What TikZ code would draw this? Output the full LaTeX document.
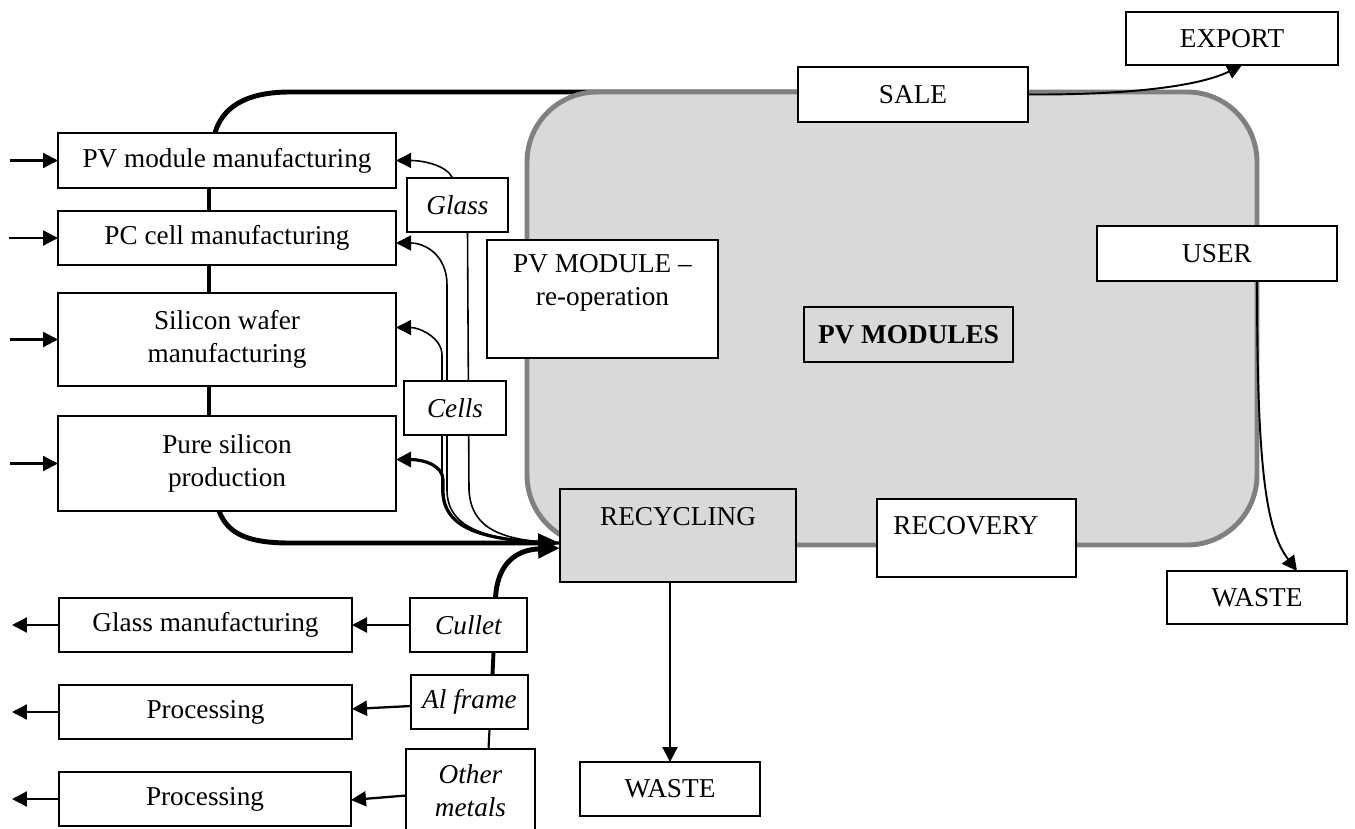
\documentclass[tikz,border=0pt]{standalone}
\usepackage{fontspec}
\setmainfont{Liberation Serif}
\usetikzlibrary{arrows.meta,calc}
\pgfdeclarelayer{bg}
\pgfsetlayers{bg,main}
\definecolor{grayfill}{HTML}{D9D9D9}
\definecolor{grayline}{HTML}{808080}
\newcommand{\bx}[7][]{\node[box,#1,minimum width={(#5-#3)*0.02cm},minimum height={(#6-#4)*0.02cm}] (#2) at ({(#3+#5)/2},{(#4+#6)/2}) {#7};}
\tikzset{
  box/.style={draw,line width=0.9pt,fill=white,inner sep=0pt,outer sep=0pt,align=center},
  txt/.style={inner sep=0pt,align=center},
  arr/.style={line width=1.3pt,-{Triangle[length=0.3cm,width=0.3cm]}},
  thin/.style={line width=0.9pt},
  thk/.style={line width=2.8pt},
  bigarr/.style={line width=2.8pt,-{Triangle[length=0.44cm,width=0.36cm]}},
}
\begin{document}
\begin{tikzpicture}[x=0.02cm,y=-0.02cm,every node/.style={font=\fontsize{15.5}{18.5}\selectfont}]
\useasboundingbox (0,0) rectangle (1355,828);
% left column
\bx{pvm}{58}{133}{396}{188}{PV module manufacturing}
\bx{pcc}{58}{211}{396}{265}{PC cell manufacturing}
\bx{swm}{58}{293}{396}{386}{Silicon wafer\\manufacturing}
\bx{psp}{58}{416}{396}{511}{Pure silicon\\production}
\bx{gman}{59}{598}{352}{652}{Glass manufacturing}
\bx{proc1}{59}{685}{352}{739}{Processing}
\bx{proc2}{59}{772}{351}{826}{Processing}
% material boxes
\bx[font=\fontsize{15.5}{18.5}\selectfont\itshape]{glass}{407}{178}{508}{232}{Glass}
\bx[font=\fontsize{15.5}{18.5}\selectfont\itshape]{cells}{404}{381}{506}{435}{Cells}
\bx[font=\fontsize{15.5}{18.5}\selectfont\itshape]{cullet}{410}{598}{527}{652}{Cullet}
\bx[font=\fontsize{15.5}{18.5}\selectfont\itshape]{alfr}{411}{675}{528}{729}{Al frame}
\bx[font=\fontsize{15.5}{18.5}\selectfont\itshape]{other}{406}{749}{535}{832}{Other\\metals}
% central / right
\bx{reop}{487}{240}{718}{358}{}
\node[txt] (reopT) at (602.5,283) {PV MODULE –\\re-operation};
\bx[fill=grayfill,line width=1.4pt,font=\fontsize{15.5}{18.5}\selectfont\bfseries]{pvmods}{804}{307}{1013}{362}{PV MODULES}
\bx[fill=grayfill,line width=1.2pt]{recy}{560}{489}{796}{582}{}
\node[txt] (recyT) at (678,517) {RECYCLING};
\bx{recov}{877}{499}{1076}{577}{}
\node[txt] (recovT) at (966,526) {RECOVERY};
\bx{sale}{798}{67}{1028}{122}{SALE}
\bx{export}{1126}{12}{1338}{65}{EXPORT}
\bx{user}{1097}{226}{1337}{281}{USER}
\bx{wasteR}{1167}{571}{1347}{624}{WASTE}
\bx{wasteB}{580}{762}{760}{816}{WASTE}
% named free ends
\coordinate (in1) at (10,160.5);
\coordinate (in2) at (9,238);
\coordinate (in3) at (10,339.5);
\coordinate (in4) at (10,463.5);
\coordinate (out1) at (12,625);
\coordinate (out2) at (12,712);
\coordinate (out3) at (12,799);
\coordinate (rin) at ($(recy.west)+(0,7.5)$);
\coordinate (rin2) at ($(recy.west)+(0,12.5)$);
\begin{pgfonlayer}{bg}
  % top flow line (under the grey field)
  \draw[thk] ($(pvm.north)+(-12,0)$) .. controls (222,108) and (245,92) .. (290,92) -- ($(sale.west)+(0,-2.5)$);
  % grey field
  \draw[line width=2.8pt,draw=grayline,fill=grayfill,rounded corners=1.4cm] (527,92) rectangle (1257,545);
  % user -> waste
  \draw[arr,line width=1.1pt] ($(user.south)+(40,0)$) .. controls (1257,470) and (1266,530) .. ($(wasteR.north)+(40,0)$);
  % sale -> export
  \draw[arr,line width=1.1pt] (sale.east) .. controls (1130,95) and (1200,86) .. ($(export.south)+(10,0)$);
  % bundle from recycling to left boxes
  \draw[arr,thin] ($(glass.north)+(-5,0)$) .. controls (447,166) and (425,160.5) .. (pvm.east);
  \draw[thin] ($(glass.south)+(10,0)$) -- (469,490) .. controls (471,528) and (500,541) .. (rin);
  \draw[arr,thin] (rin) .. controls (490,541) and (447,530) .. (447,490) -- (447,285) .. controls (447,255) and (425,243) .. ($(pcc.east)+(0,5)$);
  \draw[arr,thin] (rin) .. controls (485,541) and (442,530) .. (442,490) -- (442,355) .. controls (442,338) and (420,327.5) .. ($(swm.east)+(0,-12)$);
  \draw[arr,line width=1.8pt] (rin) .. controls (480,541) and (443,528) .. (443,490) -- (443,480) .. controls (443,466) and (425,459.5) .. ($(psp.east)+(0,-4)$);
  % main thick line into recycling
  \draw[bigarr] ($(psp.south)+(-8,0)$) .. controls (228,535) and (250,543) .. (290,543) -- (rin);
  % cullet into recycling
  \draw[bigarr] ($(cullet.north)+(27,0)$) .. controls (497,568) and (512,550) .. (rin2);
  % vertical links
  \draw[thk] ($(pvm.south)+(-18,0)$) -- ($(pcc.north)+(-18,0)$);
  \draw[thk] ($(pcc.south)+(-18,0)$) -- ($(swm.north)+(-18,0)$);
  \draw[thk] ($(swm.south)+(-18,0)$) -- ($(psp.north)+(-18,0)$);
  \draw[line width=2.2pt] ($(cullet.south)+(25,0)$) -- ($(alfr.north)+(23,0)$);
  \draw[line width=1.2pt] ($(alfr.south)+(20,0)$) -- ($(other.north)+(18,0)$);
\end{pgfonlayer}
% inputs and outputs
\draw[arr] (in1) -- (pvm.west);
\draw[arr] (in2) -- (pcc.west);
\draw[arr] (in3) -- (swm.west);
\draw[arr] (in4) -- (psp.west);
\draw[arr] (gman.west) -- (out1);
\draw[arr] (proc1.west) -- (out2);
\draw[arr] (proc2.west) -- (out3);
\draw[arr] (cullet.west) -- (gman.east);
\draw[arr] ($(alfr.west)+(0,4)$) -- ($(proc1.east)+(0,-3)$);
\draw[arr] ($(other.west)+(0,5)$) -- ($(proc2.east)+(0,1)$);
\draw[arr] (wasteB.north |- recy.south) -- (wasteB.north);
\end{tikzpicture}
\end{document}
